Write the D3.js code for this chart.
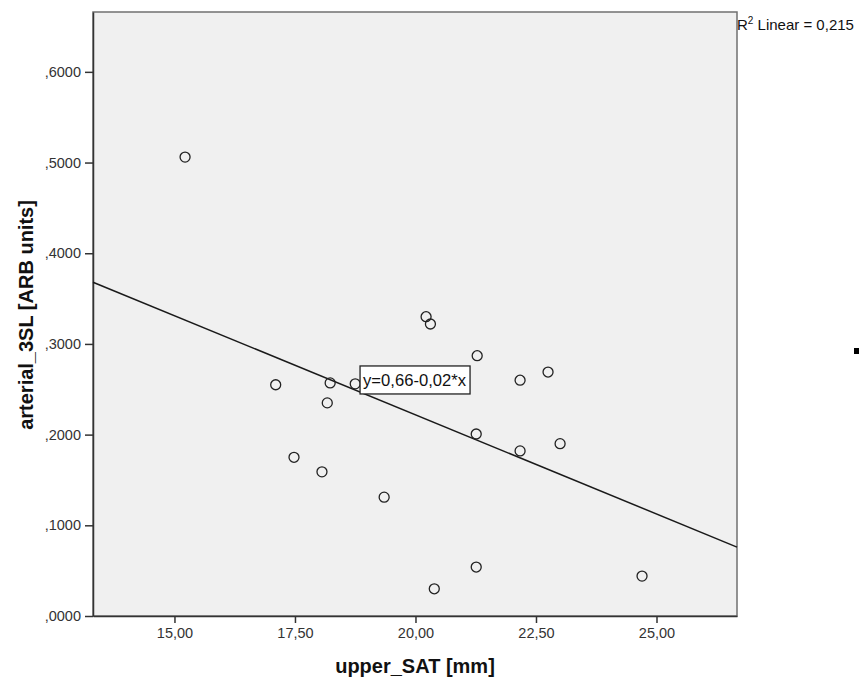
<!DOCTYPE html>
<html><head><meta charset="utf-8">
<script src="https://cdn.jsdelivr.net/npm/d3@7/dist/d3.min.js"></script>
<style>body{margin:0;background:#fff}svg{display:block}text{font-family:"Liberation Sans",Arial,sans-serif}</style>
</head><body><svg id="c" width="859" height="682"></svg>
<script>
const xValues = [15.22,17.10,18.23,18.17,18.75,17.48,18.06,19.35,20.22,20.31,21.28,21.26,21.26,20.39,22.17,22.75,22.17,23.00,24.70];
const yValues = [0.506,0.255,0.257,0.235,0.256,0.175,0.159,0.131,0.330,0.322,0.287,0.2007,0.054,0.030,0.260,0.269,0.182,0.190,0.044];
const xTicks = [15,17.5,20,22.5,25];
const yTicks = [0,0.1,0.2,0.3,0.4,0.5,0.6];
const fitIntercept = 0.659, fitSlope = -0.02186;
const fitLabel = "y=0,66-0,02*x";
const r2Label = "0,215";

const svg = d3.select("#c");
const m = {l:93, t:12, r:737, b:616};
const x = d3.scaleLinear().domain([13.31,26.67]).range([m.l,m.r]);
const y = d3.scaleLinear().domain([0,0.666]).range([m.b,m.t]);

svg.append("rect").attr("x",m.l).attr("y",m.t).attr("width",m.r-m.l).attr("height",m.b-m.t)
  .attr("fill","#f0f0f0").attr("stroke","#707070").attr("stroke-width",1.5);

const fmtY = d => d3.format(".4f")(d).replace(/^0/,"").replace(".",",");
const fmtX = d => d3.format(".2f")(d).replace(".",",");

const ya = svg.append("g").attr("transform",`translate(${m.l},0)`)
  .call(d3.axisLeft(y).tickValues(yTicks).tickSizeInner(8).tickSizeOuter(0).tickPadding(4).tickFormat(fmtY));
const xa = svg.append("g").attr("transform",`translate(0,${m.b})`)
  .call(d3.axisBottom(x).tickValues(xTicks).tickSizeInner(7).tickSizeOuter(0).tickPadding(5).tickFormat(fmtX));
[ya,xa].forEach(a=>{
  a.select(".domain").attr("stroke","#333").attr("stroke-width",1.5);
  a.selectAll(".tick line").attr("stroke","#333").attr("stroke-width",1.5);
  a.selectAll(".tick text").attr("fill","#333").attr("font-size",14.5);
});

// fit line
const x0 = x.domain()[0], x1 = x.domain()[1];
svg.append("line").attr("x1",x(x0)).attr("y1",y(fitIntercept+fitSlope*x0))
  .attr("x2",x(x1)).attr("y2",y(fitIntercept+fitSlope*x1))
  .attr("stroke","#1a1a1a").attr("stroke-width",1.5);

svg.append("g").selectAll("circle").data(xValues.map((v,i)=>[v,yValues[i]])).join("circle")
  .attr("cx",d=>x(d[0])).attr("cy",d=>y(d[1])).attr("r",5)
  .attr("fill","none").attr("stroke","#222").attr("stroke-width",1.3);

// label box anchored in data coordinates
const bx = x(18.85), by = y(0.2757);
const lg = svg.append("g");
lg.append("rect").attr("x",bx).attr("y",by).attr("width",110).attr("height",28)
  .attr("fill","#fff").attr("stroke","#222").attr("stroke-width",1.3);
lg.append("text").attr("x",bx+3).attr("y",by+20).attr("font-size",16.5).attr("fill","#111")
  .attr("textLength",103).attr("lengthAdjust","spacingAndGlyphs").text(fitLabel);

// R2 label
const rt = svg.append("text").attr("x",m.r).attr("y",30).attr("font-size",15).attr("fill","#111");
rt.append("tspan").text("R");
rt.append("tspan").attr("font-size",10).attr("dy",-6).text("2");
rt.append("tspan").attr("dy",6).text(" Linear = "+r2Label);

svg.append("text").attr("x",415).attr("y",673).attr("text-anchor","middle")
  .attr("font-size",20).attr("font-weight","bold").attr("fill","#111").text("upper_SAT [mm]");
svg.append("text").attr("transform",`translate(33,315) rotate(-90)`).attr("text-anchor","middle")
  .attr("font-size",20).attr("font-weight","bold").attr("fill","#111").text("arterial_3SL [ARB units]");

svg.append("rect").attr("x",854).attr("y",348).attr("width",5).attr("height",6).attr("fill","#000");
</script></body></html>
